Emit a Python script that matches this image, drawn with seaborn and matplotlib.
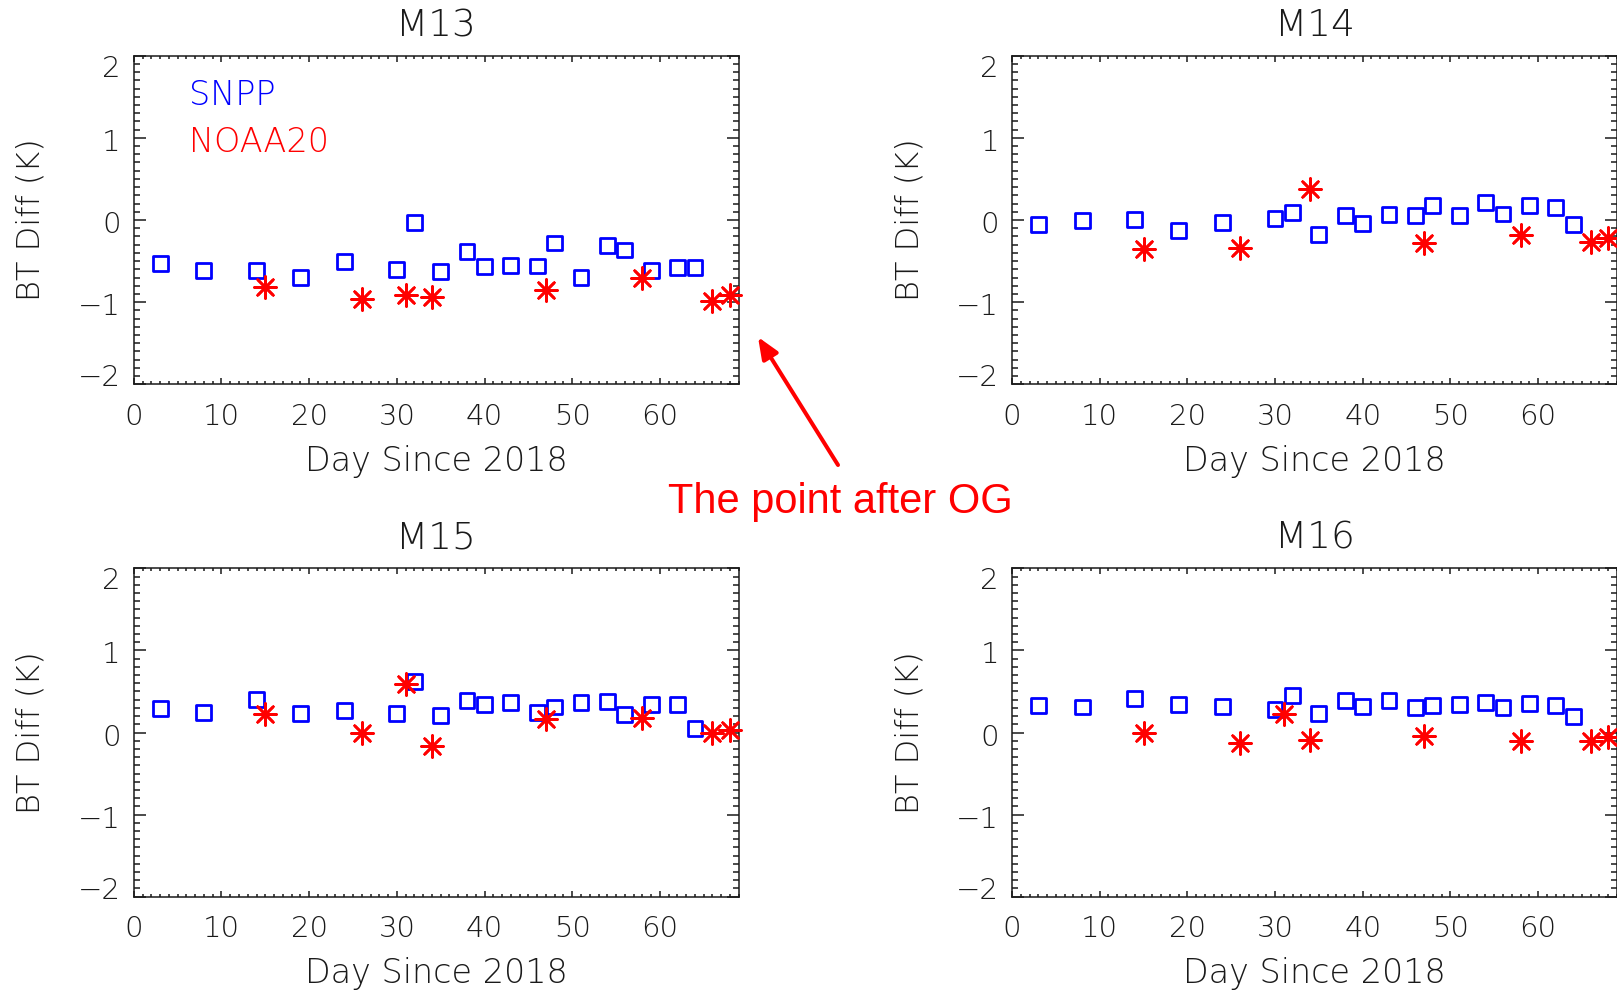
import numpy as np
import pandas as pd
import matplotlib
matplotlib.use("Agg")
import matplotlib.pyplot as plt
from matplotlib.ticker import MultipleLocator
from matplotlib.transforms import ScaledTranslation
import seaborn as sns

# Observation days (days since 1 Jan 2018)
snpp_days = [3, 8, 14, 19, 24, 30, 32, 35, 38, 40, 43, 46, 48, 51, 54, 56, 59, 62, 64]
noaa20_days = [15, 26, 31, 34, 47, 58, 66, 68]

# Brightness-temperature differences (K) per band
snpp_m13 = [-0.53, -0.61, -0.62, -0.70, -0.51, -0.60, -0.03, -0.63, -0.385, -0.57,
            -0.55, -0.56, -0.28, -0.70, -0.31, -0.365, -0.62, -0.58, -0.58]
noaa20_m13 = [-0.815, -0.965, -0.91, -0.94, -0.85, -0.71, -0.98, -0.91]

snpp_m14 = [-0.05, -0.01, 0.01, -0.13, -0.03, 0.015, 0.09, -0.175, 0.05, -0.045,
            0.065, 0.057, 0.18, 0.057, 0.21, 0.073, 0.18, 0.155, -0.057]
noaa20_m14 = [-0.354, -0.337, np.nan, 0.374, -0.285, -0.187, -0.272, -0.224]

snpp_m15 = [0.29, 0.24, 0.40, 0.23, 0.27, 0.235, 0.62, 0.21, 0.39, 0.345,
            0.37, 0.24, 0.31, 0.37, 0.38, 0.215, 0.34, 0.34, 0.05]
noaa20_m15 = [0.22, 0.0, 0.59, -0.166, 0.16, 0.18, -0.01, 0.036]

snpp_m16 = [0.33, 0.31, 0.41, 0.34, 0.32, 0.28, 0.45, 0.235, 0.39, 0.32,
            0.39, 0.30, 0.33, 0.34, 0.37, 0.30, 0.35, 0.33, 0.19]
noaa20_m16 = [0.0, -0.13, 0.22, -0.09, -0.04, -0.10, -0.105, -0.05]

bands = ["M13", "M14", "M15", "M16"]
snpp_series = [snpp_m13, snpp_m14, snpp_m15, snpp_m16]
noaa20_series = [noaa20_m13, noaa20_m14, noaa20_m15, noaa20_m16]

sat_names = ["SNPP", "NOAA20"]
x_label = "Day Since 2018"
y_label = "BT Diff (K)"
note_text = "The point after OG"

sns.set_style("ticks")
plt.rcParams["font.family"] = ["DejaVu Sans"]
plt.rcParams["font.weight"] = "light"
plt.rcParams["axes.labelweight"] = "light"
plt.rcParams["axes.titleweight"] = "light"
plt.rcParams["axes.unicode_minus"] = True

W, H = 1617, 990
fig = plt.figure(figsize=(W / 100, H / 100), dpi=100)

ink = "#1a1a1a"
blue = "#0000ff"
red = "#ff0000"

# axes boxes in pixels: (left, top, width, height)
boxes = [(133.8, 55.7, 605, 328.6), (1012.0, 55.7, 605, 328.6),
         (133.8, 568.3, 605, 328.4), (1012.0, 568.3, 605, 328.4)]

asterisk = (8, 2, 0)

for i, (band, s_vals, n_vals) in enumerate(zip(bands, snpp_series, noaa20_series)):
    l, t, w, h = boxes[i]
    ax = fig.add_axes([l / W, (H - t - h) / H, w / W, h / H])

    df_s = pd.DataFrame({"day": snpp_days, "diff": s_vals})
    df_n = pd.DataFrame({"day": noaa20_days, "diff": n_vals}).dropna()

    sns.scatterplot(data=df_s, x="day", y="diff", ax=ax, marker="s", s=115,
                    facecolor="none", edgecolor=blue, linewidth=2.0,
                    clip_on=False, zorder=3)
    sns.scatterplot(data=df_n, x="day", y="diff", ax=ax, marker=asterisk, s=250,
                    color=red, linewidth=1.9, clip_on=False, zorder=4)

    ax.set_xlim(0, 69)
    ax.set_ylim(-2, 2)
    ax.xaxis.set_major_locator(MultipleLocator(10))
    ax.xaxis.set_minor_locator(MultipleLocator(1))
    ax.yaxis.set_major_locator(MultipleLocator(1))
    ax.yaxis.set_minor_locator(MultipleLocator(0.1))

    ax.tick_params(which="both", direction="in", top=True, right=True,
                   color=ink, width=1.1, labelsize=21, labelcolor=ink)
    ax.tick_params(axis="y", which="major", length=8.6, pad=9.4)
    ax.tick_params(axis="y", which="minor", length=4.0)
    ax.tick_params(axis="x", which="major", length=4.3, pad=13.5)
    ax.tick_params(axis="x", which="minor", length=2.0)
    for sp in ax.spines.values():
        sp.set_visible(True)
        sp.set_linewidth(1.1)
        sp.set_color(ink)

    # the end labels of the y axis sit just inside the frame
    yticks = ax.yaxis.get_major_ticks()
    ylocs = ax.yaxis.get_majorticklocs()
    for tick, loc in zip(yticks, ylocs):
        if np.isclose(loc, 2):
            dy = -10 / 72
        elif np.isclose(loc, -2):
            dy = 9 / 72
        else:
            dy = -2 / 72
        tick.label1.set_transform(tick.label1.get_transform()
                                  + ScaledTranslation(0, dy * 0.72, fig.dpi_scale_trans))

    ax.set_xlabel(x_label, fontsize=24, color=ink, va="center", fontweight="light")
    ax.xaxis.set_label_coords(0.5, -0.235)
    ax.set_ylabel(y_label, fontsize=23, color=ink, va="center", fontweight="light")
    ax.yaxis.set_label_coords(-0.170, 0.5)
    ax.set_title(band, fontsize=27, color=ink, pad=14.0, fontweight="light")

    if i == 0:
        ax.text(0.091, 0.878, sat_names[0], transform=ax.transAxes, color=blue,
                fontsize=24, ha="left", va="center")
        ax.text(0.091, 0.735, sat_names[1], transform=ax.transAxes, color=red,
                fontsize=24, ha="left", va="center")

# annotation pointing at the M13 panel
fig.text(840 / W, 1 - 502 / H, note_text, color=red, fontsize=30, fontweight="normal",
         family=["Liberation Sans", "DejaVu Sans"], ha="center", va="center")
fig.axes[0].annotate("", xy=(758, H - 337), xycoords="figure pixels",
                     xytext=(838, H - 465), textcoords="figure pixels",
                     arrowprops=dict(arrowstyle="-|>,head_length=13,head_width=5.4",
                                     mutation_scale=1, color=red, lw=2.9,
                                     shrinkA=0, shrinkB=0),
                     annotation_clip=False)

fig.savefig("out.png", dpi=100)
